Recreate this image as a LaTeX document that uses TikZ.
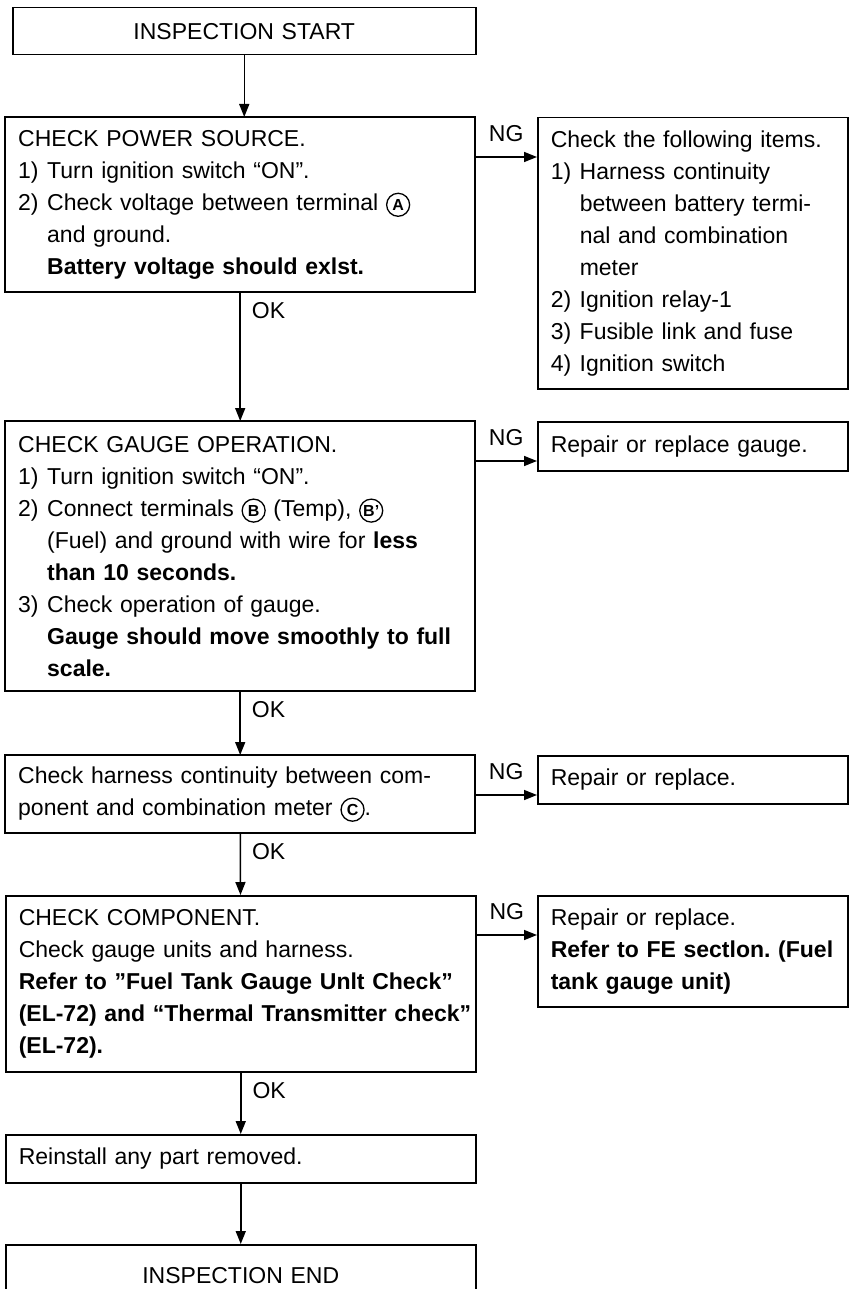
\documentclass[tikz,border=0pt]{standalone}
\usepackage{fontspec}
\setmainfont{Liberation Sans}
\usetikzlibrary{arrows.meta}
\frenchspacing
\newcommand{\itm}[1]{\makebox[29pt][l]{#1}}
\newcommand{\ind}{\hspace*{29pt}}
\newcommand{\cterm}[1]{\tikz[baseline=(tm.base)]\node[circle,draw,line width=1.3pt,minimum size=23pt,inner sep=0pt,text width={},align=center,anchor=center,font=\bfseries\fontsize{16}{16}\selectfont] (tm) {#1};}
\begin{document}
\begin{tikzpicture}[x=1pt, y=-1pt, line width=1.5pt, >={Triangle[length=13pt,width=10pt]},
  every node/.style={font=\fontsize{23}{32}\selectfont},
  chk/.style={draw,anchor=north west,inner xsep=0pt,inner ysep=4pt,align=left,text width=470pt,execute at begin node={\leftskip=13pt}},
  side/.style={chk,text width=310pt},
  term/.style={draw,anchor=north west,inner sep=0pt,align=center,text width=470pt,minimum height=48pt},
  lab/.style={inner sep=2pt}]
\useasboundingbox (0,0) rectangle (850,1289);
\clip (0,0) rectangle (850,1289);
% main column
\node[term,text width=463pt,minimum height=47pt] (start) at (12,7) {INSPECTION START};
\node[chk,minimum height=175pt] (pwr) at (5,117) {CHECK POWER SOURCE.\\
\itm{1)}Turn ignition switch “ON”.\\
\itm{2)}Check voltage between terminal \cterm{A}\\
\ind and ground.\\
\ind\textbf{Battery voltage should exlst.}};
\node[chk,minimum height=270pt] (gauge) at (5,421) {CHECK GAUGE OPERATION.\\
\itm{1)}Turn ignition switch “ON”.\\
\itm{2)}Connect terminals \cterm{B} (Temp), \cterm{B'}\\
\ind(Fuel) and ground with wire for \textbf{less}\\
\ind\textbf{than 10 seconds.}\\
\itm{3)}Check operation of gauge.\\
\ind\textbf{Gauge should move smoothly to full}\\
\ind\textbf{scale.}};
\node[chk,minimum height=78pt] (harn) at (5,755) {Check harness continuity between com-\\
ponent and combination meter \cterm{C}.};
\node[chk,minimum height=176pt] (comp) at (5,895) {CHECK COMPONENT.\\
Check gauge units and harness.\\
\textbf{Refer to ”Fuel Tank Gauge Unlt Check”}\\
\textbf{(EL-72) and “Thermal Transmitter check”}\\
\textbf{(EL-72).}};
\node[chk,minimum height=48pt] (reinst) at (5,1134) {Reinstall any part removed.};
\node[term,minimum height=62pt] (fin) at (5,1244) {INSPECTION END};
% NG side
\node[side,minimum height=271pt] (pwrng) at (537,117) {Check the following items.\\
\itm{1)}Harness continuity\\
\ind between battery termi-\\
\ind nal and combination\\
\ind meter\\
\itm{2)}Ignition relay-1\\
\itm{3)}Fusible link and fuse\\
\itm{4)}Ignition switch};
\node[side,minimum height=49pt] (gaugeng) at (537,421) {Repair or replace gauge.};
\node[side,minimum height=48pt] (harnng) at (537,755) {Repair or replace.};
\node[side,minimum height=111pt] (compng) at (537,895) {Repair or replace.\\
\textbf{Refer to FE sectlon. (Fuel}\\
\textbf{tank gauge unit)}};
\draw[->] (start) -- (start |- pwr.north);
\foreach \a/\b in {pwr/gauge,gauge/harn,harn/comp,comp/reinst}
  \draw[->] (\a) -- (\b) node[pos=0,lab,anchor=north west,xshift=9pt,yshift=-7pt] {OK};
\draw[->] (reinst) -- (fin);
\foreach \a/\b in {pwr/pwrng,gauge/gaugeng,harn/harnng,comp/compng}
  \draw[->] ([yshift=-40pt]\a.north east) -- ([yshift=-40pt]\b.north west) node[midway,lab,above=13pt] {NG};
\end{tikzpicture}
\end{document}
